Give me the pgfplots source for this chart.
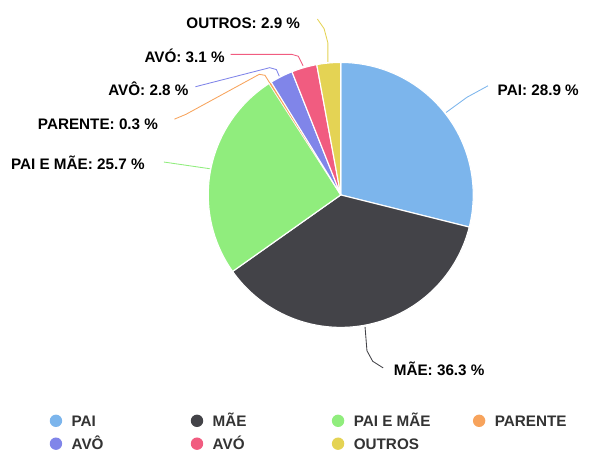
\documentclass[border=0pt]{standalone}
\usepackage{pgfplots}
\pgfplotsset{compat=1.18}
\usepackage{fontspec}
\setmainfont{Liberation Sans}
\definecolor{cPai}{HTML}{7CB5EC}
\definecolor{cMae}{HTML}{434348}
\definecolor{cPaiMae}{HTML}{90ED7D}
\definecolor{cParente}{HTML}{F7A35C}
\definecolor{cAvo}{HTML}{8085E9}
\definecolor{cAvoa}{HTML}{F15C80}
\definecolor{cOutros}{HTML}{E4D354}
\definecolor{legtext}{HTML}{333333}
% shares (%), clockwise from the top
% PAI 28.9, MAE 36.3, PAI E MAE 25.7, PARENTE 0.3, AVO 2.8, AVO(f) 3.1, OUTROS 2.9
\newcommand{\cx}{357.5}
\newcommand{\cy}{204.5}
\newcommand{\rr}{139}
\tikzset{lbl/.style={inner sep=0pt, font=\fontsize{16}{19}\selectfont\bfseries, text=black}}
\begin{document}
\begin{tikzpicture}
\begin{axis}[
  scale only axis, width=614pt, height=474pt,
  xmin=0, xmax=614, ymin=0, ymax=474, y dir=reverse,
  axis line style={draw=none}, ticks=none, clip=false,
  legend columns=4,
  legend style={draw=none, fill=none, inner xsep=0pt, inner ysep=0pt,
    at={(axis cs:52,453.5)}, anchor=west,
    row sep=11pt,
    nodes={inner sep=0pt, text height=11.5pt, text depth=0pt,
      font=\fontsize{16}{19}\selectfont\bfseries, text=legtext}},
  legend image code/.code={\fill[#1, draw=none] (6.5pt,0pt) circle (6.5pt); \path[draw=none, fill=none] (0pt,0pt) (23pt,0pt);},
  slice/.style={draw=white, line width=1.2pt, samples=80, variable=\t},
  conn/.style={forget plot, line width=0.9pt, no marks},
]
\path (axis cs:0,0) rectangle (axis cs:614,474);
% slices: angle = 90 - 3.6*cumulative percentage
\addplot[slice, fill=cPai, domain={90-3.6*28.9}:90]
  ({\cx+\rr*cos(\t)}, {\cy-\rr*sin(\t)}) -- (axis cs:\cx,\cy) -- cycle;
\addlegendentry{\makebox[125pt][l]{PAI}}
\addplot[slice, fill=cMae, domain={90-3.6*65.2}:{90-3.6*28.9}]
  ({\cx+\rr*cos(\t)}, {\cy-\rr*sin(\t)}) -- (axis cs:\cx,\cy) -- cycle;
\addlegendentry{\makebox[125pt][l]{MÃE}}
\addplot[slice, fill=cPaiMae, domain={90-3.6*90.9}:{90-3.6*65.2}]
  ({\cx+\rr*cos(\t)}, {\cy-\rr*sin(\t)}) -- (axis cs:\cx,\cy) -- cycle;
\addlegendentry{\makebox[125pt][l]{PAI E MÃE}}
\addplot[slice, fill=cParente, line width=0.4pt, domain={90-3.6*91.2}:{90-3.6*90.9}]
  ({\cx+\rr*cos(\t)}, {\cy-\rr*sin(\t)}) -- (axis cs:\cx,\cy) -- cycle;
\addlegendentry{\makebox[125pt][l]{PARENTE}}
\addplot[slice, fill=cAvo, domain={90-3.6*94.0}:{90-3.6*91.2}]
  ({\cx+\rr*cos(\t)}, {\cy-\rr*sin(\t)}) -- (axis cs:\cx,\cy) -- cycle;
\addlegendentry{\makebox[125pt][l]{AVÔ}}
\addplot[slice, fill=cAvoa, domain={90-3.6*97.1}:{90-3.6*94.0}]
  ({\cx+\rr*cos(\t)}, {\cy-\rr*sin(\t)}) -- (axis cs:\cx,\cy) -- cycle;
\addlegendentry{\makebox[125pt][l]{AVÓ}}
\addplot[slice, fill=cOutros, domain={90-3.6*100}:{90-3.6*97.1}]
  ({\cx+\rr*cos(\t)}, {\cy-\rr*sin(\t)}) -- (axis cs:\cx,\cy) -- cycle;
\addlegendentry{\makebox[125pt][l]{OUTROS}}
% connectors
\addplot[conn, cPai] coordinates {(468,118) (490,102) (512,90)};
\addplot[conn, cMae] coordinates {(383,343) (385,368) (391,379) (402,386)};
\addplot[conn, cPaiMae] coordinates {(220,177) (172,170)};
\addplot[conn, cParente] coordinates {(283,87) (278,79) (272,78) (195,120) (183,125)};
\addplot[conn, cAvo] coordinates {(293,80) (290,73) (283,71) (205,91)};
\addplot[conn, cAvoa] coordinates {(318,69) (313,59) (306,57) (242,57)};
\addplot[conn, cOutros] coordinates {(344,65) (344,45) (340,30) (333,20)};
% labels
\node[lbl, anchor=base east] at (axis cs:315,29.7) {OUTROS: 2.9 \%};
\node[lbl, anchor=base east] at (axis cs:236,65.7) {AVÓ: 3.1 \%};
\node[lbl, anchor=base east] at (axis cs:198,100.7) {AVÔ: 2.8 \%};
\node[lbl, anchor=base east] at (axis cs:166,135.7) {PARENTE: 0.3 \%};
\node[lbl, anchor=base east] at (axis cs:152,177.7) {PAI E MÃE: 25.7 \%};
\node[lbl, anchor=base west] at (axis cs:522,100.7) {PAI: 28.9 \%};
\node[lbl, anchor=base west] at (axis cs:413,393.7) {MÃE: 36.3 \%};
\end{axis}
\end{tikzpicture}
\end{document}
